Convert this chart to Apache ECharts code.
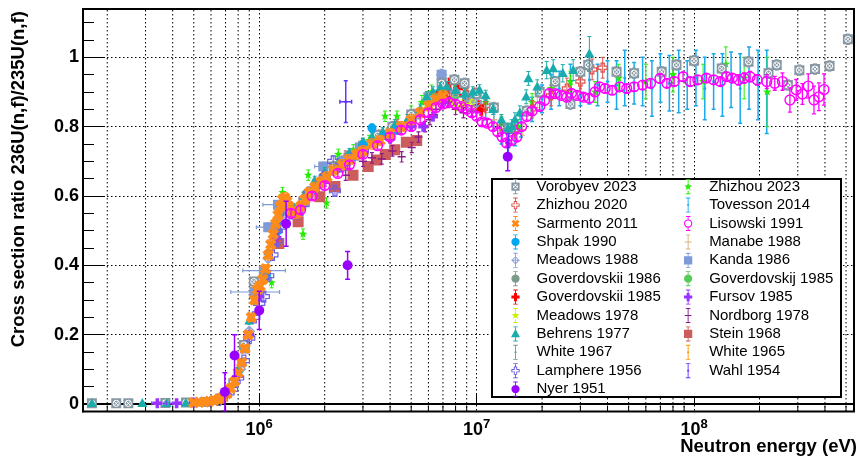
<!DOCTYPE html>
<html><head><meta charset="utf-8">
<script src="https://cdn.jsdelivr.net/npm/echarts@6/dist/echarts.min.js"></script>
<style>html,body{margin:0;padding:0;background:#fff}#c{width:859px;height:456px}</style>
</head><body><div id="c"></div>
<script>
// ---------- data: [energy eV, ratio, error, (xLow, xHigh)] ----------
const vorobyev2023 = [[1.7e5,0.002,0.003],[2.2e5,0.002,0.003],[2.5e5,0.002,0.003],[3.7e5,0.003,0.003],[4.6e5,0.004,0.003],[5.6e5,0.006,0.004],[6.6e5,0.015,0.005],[7.6e5,0.06,0.008],[8.5e5,0.17,0.01],[9.45e5,0.353,0.012],[1.06e6,0.37,0.012],[1.2e6,0.51,0.015],[1.32e6,0.585,0.015],[1.6e6,0.585,0.015],[1.85e6,0.635,0.015],[2.2e6,0.685,0.015],[2.6e6,0.715,0.015],[3.0e6,0.745,0.015],[3.5e6,0.775,0.015],[4.1e6,0.80,0.015],[5.0e6,0.835,0.015],[6.0e6,0.885,0.015],[6.9e6,0.925,0.015],[7.9e6,0.935,0.015],[8.8e6,0.925,0.015],[1.0e7,0.895,0.015],[1.2e7,0.855,0.015],[1.4e7,0.795,0.015],[1.7e7,0.845,0.015],[1.95e7,0.90,0.015],[2.3e7,0.93,0.015],[2.7e7,0.865,0.015],[3.0e7,0.958,0.015],[3.26e7,0.978,0.015],[4.4e7,0.958,0.015],[5.3e7,0.954,0.015],[7.1e7,0.958,0.015],[8.3e7,0.978,0.015],[1.0e8,0.99,0.015],[1.34e8,0.968,0.015],[1.78e8,0.987,0.015],[2.2e8,0.954,0.015],[2.4e8,0.978,0.015],[2.7e8,0.92,0.015],[3.05e8,0.963,0.015],[3.6e8,0.966,0.015],[4.2e8,0.975,0.015],[5.1e8,1.052,0.015]];
const zhizhou2020 = [[1.3e6,0.58,0.02],[1.6e6,0.59,0.02],[2.0e6,0.66,0.02],[2.5e6,0.71,0.02],[3.0e6,0.745,0.02],[3.6e6,0.77,0.02],[4.3e6,0.80,0.02],[5.2e6,0.83,0.02],[6.3e6,0.88,0.02],[7.5e6,0.90,0.02],[9.0e6,0.89,0.02],[1.1e7,0.86,0.02],[1.3e7,0.80,0.025],[1.5e7,0.79,0.025],[1.8e7,0.85,0.025],[2.2e7,0.89,0.03],[2.6e7,0.91,0.03],[3.0e7,0.93,0.03],[3.4e7,0.965,0.03],[3.8e7,0.97,0.03]];
const sarmento2011 = [[5.0e5,0.004,0.003],[5.3e5,0.005,0.003],[5.6e5,0.006,0.003],[5.9e5,0.008,0.003],[6.2e5,0.010,0.003],[6.5e5,0.014,0.004],[6.8e5,0.020,0.004],[7.1e5,0.030,0.005],[7.4e5,0.045,0.005],[7.7e5,0.065,0.006],[8.0e5,0.09,0.007],[8.3e5,0.12,0.008],[8.6e5,0.16,0.01],[8.9e5,0.20,0.01],[9.2e5,0.25,0.012],[9.5e5,0.30,0.012],[9.8e5,0.33,0.012],[1.01e6,0.34,0.012],[1.04e6,0.36,0.012],[1.07e6,0.39,0.012],[1.10e6,0.43,0.015],[1.13e6,0.46,0.015],[1.16e6,0.49,0.015],[1.19e6,0.52,0.015],[1.22e6,0.545,0.015],[1.25e6,0.57,0.015],[1.28e6,0.59,0.015],[1.31e6,0.595,0.015],[1.34e6,0.585,0.015],[1.37e6,0.57,0.015],[1.42e6,0.555,0.015],[1.48e6,0.55,0.015],[1.55e6,0.57,0.015],[1.62e6,0.59,0.015],[1.70e6,0.61,0.015],[1.80e6,0.625,0.015],[1.92e6,0.64,0.015],[2.05e6,0.655,0.015],[2.2e6,0.675,0.015],[2.4e6,0.69,0.015],[2.6e6,0.705,0.015],[2.8e6,0.72,0.015],[3.0e6,0.73,0.015],[3.3e6,0.75,0.015],[3.6e6,0.76,0.015],[4.0e6,0.78,0.015],[4.5e6,0.80,0.015],[5.0e6,0.82,0.015],[5.5e6,0.84,0.015],[6.0e6,0.86,0.015],[6.5e6,0.88,0.015],[7.0e6,0.89,0.015]];
const shpak1990 = [[9.6e5,0.30,0.01],[1.08e6,0.37,0.01],[1.22e6,0.50,0.012],[1.45e6,0.55,0.012],[1.8e6,0.62,0.012],[2.3e6,0.68,0.012],[2.7e6,0.715,0.012],[3.0e6,0.747,0.012],[3.3e6,0.796,0.012],[3.8e6,0.775,0.012],[4.3e6,0.79,0.012]];
const meadows1988 = [[8.2e5,0.10,0.006],[9.0e5,0.21,0.008],[1.0e6,0.32,0.01],[1.1e6,0.42,0.01],[1.2e6,0.50,0.01],[1.3e6,0.57,0.01],[1.5e6,0.555,0.01],[1.7e6,0.60,0.01],[2.0e6,0.65,0.01],[2.5e6,0.70,0.01],[3.0e6,0.74,0.01],[3.5e6,0.765,0.01],[4.0e6,0.785,0.01],[5.0e6,0.82,0.01],[6.0e6,0.87,0.012],[6.9e6,0.95,0.012],[8.0e6,0.90,0.012],[9.0e6,0.885,0.012],[1.0e7,0.87,0.012]];
const goverdovskii1986 = [[1.0e6,0.33,0.01],[1.25e6,0.55,0.012],[1.5e6,0.56,0.012],[2.0e6,0.655,0.012],[2.5e6,0.70,0.012],[3.0e6,0.74,0.012],[4.0e6,0.79,0.012],[5.0e6,0.825,0.012]];
const goverdovskii1985 = [[6.0e6,0.87,0.015],[6.6e6,0.89,0.015],[7.2e6,0.90,0.015],[7.5e6,0.925,0.015],[8.2e6,0.91,0.015],[8.8e6,0.89,0.015],[9.9e6,0.896,0.015],[1.03e7,0.86,0.015],[1.05e7,0.848,0.015]];
const meadows1978 = [[1.0e6,0.33,0.01],[1.5e6,0.56,0.012],[2.0e6,0.65,0.012],[3.0e6,0.735,0.012],[4.0e6,0.78,0.012],[5.0e6,0.815,0.012],[6.0e6,0.86,0.012],[7.0e6,0.89,0.012],[7.6e6,0.875,0.012],[8.1e6,0.858,0.012],[8.6e6,0.865,0.012],[9.1e6,0.87,0.012],[9.6e6,0.875,0.012]];
const behrens1977 = [[1.7e5,0.002,0.003],[2.9e5,0.002,0.003],[3.75e5,0.002,0.003],[4.6e5,0.003,0.003],[5.2e5,0.004,0.003],[6.0e5,0.008,0.003],[7.0e5,0.028,0.004],[8.0e5,0.10,0.006],[9.0e5,0.24,0.01],[1.0e6,0.34,0.01],[1.1e6,0.44,0.012],[1.2e6,0.53,0.012],[1.3e6,0.59,0.012],[1.45e6,0.565,0.012],[1.6e6,0.60,0.012],[1.8e6,0.645,0.012],[2.0e6,0.67,0.012],[2.3e6,0.695,0.012],[2.6e6,0.725,0.012],[3.0e6,0.755,0.012],[3.3e6,0.77,0.012],[3.7e6,0.785,0.012],[4.2e6,0.805,0.015],[4.8e6,0.82,0.015],[5.5e6,0.85,0.015],[5.9e6,0.886,0.015],[6.3e6,0.90,0.015],[6.8e6,0.912,0.015],[7.3e6,0.915,0.015],[8.0e6,0.905,0.015],[8.8e6,0.895,0.015],[9.6e6,0.90,0.015],[1.03e7,0.906,0.015],[1.1e7,0.89,0.015],[1.19e7,0.85,0.015],[1.3e7,0.82,0.015],[1.39e7,0.795,0.015],[1.45e7,0.80,0.02],[1.5e7,0.82,0.02],[1.58e7,0.84,0.02],[1.69e7,0.886,0.02],[1.73e7,0.939,0.02],[1.9e7,0.915,0.02],[2.1e7,0.963,0.025],[2.25e7,0.968,0.025],[2.49e7,0.954,0.025],[2.78e7,0.963,0.03],[3.3e7,1.01,0.05]];
const white1967 = [[1.2e6,0.50,0.01],[1.6e6,0.58,0.01],[2.2e6,0.67,0.01],[3.0e6,0.735,0.01],[4.0e6,0.78,0.01]];
const lamphere1956 = [[6.5e5,0.012,0.003],[7.0e5,0.025,0.004],[7.5e5,0.042,0.005],[8.0e5,0.075,0.006],[8.5e5,0.125,0.008],[9.0e5,0.19,0.01],[9.5e5,0.25,0.01],[1.0e6,0.29,0.012],[1.05e6,0.31,0.012],[1.1e6,0.37,0.012],[1.15e6,0.43,0.012],[1.2e6,0.47,0.015],[1.25e6,0.51,0.015],[1.3e6,0.545,0.015],[1.4e6,0.55,0.015],[1.5e6,0.55,0.015],[1.6e6,0.575,0.015],[1.7e6,0.61,0.015],[1.85e6,0.63,0.015],[2.0e6,0.655,0.015],[2.19e6,0.70,0.015],[2.23e6,0.615,0.015],[2.4e6,0.685,0.015],[2.7e6,0.71,0.015],[3.0e6,0.73,0.015]];
const nyer1951 = [[6.95e5,0.035,0.055],[7.7e5,0.14,0.06],[1.0e6,0.27,0.055],[1.33e6,0.52,0.065],[2.55e6,0.40,0.04],[1.39e7,0.713,0.04]];
const zhizhou2023 = [[1.14e6,0.35,0.015],[1.22e6,0.49,0.015],[1.28e6,0.61,0.015],[1.59e6,0.49,0.015],[1.68e6,0.66,0.015],[2.04e6,0.58,0.015],[2.31e6,0.72,0.015],[2.71e6,0.733,0.015],[3.2e6,0.76,0.015],[3.79e6,0.83,0.015],[4.3e6,0.83,0.015],[5.0e6,0.84,0.02],[5.6e6,0.87,0.02],[6.2e6,0.90,0.02],[7.0e6,0.935,0.02],[8.0e6,0.92,0.02],[9.0e6,0.90,0.02],[1.1e7,0.87,0.02],[1.3e7,0.81,0.02],[1.55e7,0.80,0.02],[1.8e7,0.87,0.025],[2.2e7,0.91,0.03],[2.7e7,0.93,0.03],[3.5e7,0.90,0.03],[4.5e7,0.94,0.04],[6.0e7,0.93,0.05],[8.0e7,0.95,0.05],[1.1e8,0.93,0.05],[1.4e8,0.98,0.05],[1.7e8,0.94,0.06],[2.17e8,0.90,0.10]];
const tovesson2014 = [[3.0e6,0.745,0.02],[4.0e6,0.785,0.02],[5.0e6,0.825,0.02],[6.0e6,0.87,0.02],[7.0e6,0.90,0.025],[8.0e6,0.895,0.025],[9.0e6,0.88,0.025],[1.0e7,0.87,0.03],[1.1e7,0.85,0.03],[1.2e7,0.82,0.03],[1.3e7,0.78,0.03],[1.4e7,0.75,0.03],[1.5e7,0.775,0.03],[1.6e7,0.80,0.03],[1.8e7,0.85,0.035],[2.0e7,0.88,0.04],[2.2e7,0.90,0.05],[2.4e7,0.91,0.05],[2.7e7,0.92,0.06],[3.0e7,0.91,0.05],[3.3e7,0.935,0.07],[3.6e7,0.92,0.06],[4.0e7,0.93,0.06],[4.4e7,0.92,0.07],[4.8e7,0.94,0.08],[5.3e7,0.925,0.06],[5.8e7,0.93,0.07],[6.4e7,0.91,0.08],[7.0e7,0.94,0.07],[7.7e7,0.925,0.08],[8.5e7,0.93,0.09],[9.3e7,0.92,0.07],[1.02e8,0.94,0.08],[1.12e8,0.91,0.09],[1.23e8,0.93,0.08],[1.35e8,0.92,0.09],[1.48e8,0.935,0.08],[1.63e8,0.91,0.1],[1.79e8,0.94,0.09],[1.97e8,0.92,0.1],[2.16e8,0.90,0.12]];
const lisowski1991 = [[1.4e6,0.55,0.01],[1.55e6,0.56,0.01],[1.75e6,0.60,0.01],[2.0e6,0.63,0.01],[2.3e6,0.665,0.01],[2.6e6,0.69,0.01],[3.0e6,0.72,0.01],[3.5e6,0.745,0.01],[4.0e6,0.77,0.01],[4.5e6,0.79,0.01],[5.0e6,0.80,0.01],[5.5e6,0.82,0.01],[6.0e6,0.84,0.01],[6.5e6,0.855,0.01],[7.0e6,0.865,0.01],[7.5e6,0.87,0.01],[8.0e6,0.865,0.01],[8.5e6,0.858,0.01],[9.0e6,0.85,0.01],[9.5e6,0.84,0.01],[1.0e7,0.83,0.01],[1.06e7,0.814,0.01],[1.12e7,0.81,0.01],[1.19e7,0.80,0.01],[1.25e7,0.785,0.01],[1.31e7,0.77,0.01],[1.37e7,0.753,0.01],[1.45e7,0.76,0.01],[1.53e7,0.77,0.01],[1.61e7,0.80,0.01],[1.70e7,0.829,0.01],[1.8e7,0.845,0.01],[1.95e7,0.858,0.01],[2.05e7,0.875,0.01],[2.16e7,0.896,0.01],[2.3e7,0.895,0.01],[2.45e7,0.89,0.01],[2.6e7,0.885,0.01],[2.73e7,0.896,0.01],[2.9e7,0.89,0.01],[3.1e7,0.885,0.01],[3.3e7,0.882,0.012],[3.5e7,0.90,0.012],[3.67e7,0.915,0.012],[3.9e7,0.91,0.012],[4.2e7,0.905,0.012],[4.55e7,0.915,0.012],[4.9e7,0.91,0.012],[5.3e7,0.915,0.012],[5.8e7,0.92,0.012],[6.3e7,0.925,0.012],[6.97e7,0.939,0.012],[7.5e7,0.925,0.012],[8.1e7,0.93,0.012],[8.9e7,0.944,0.012],[9.6e7,0.93,0.012],[1.04e8,0.935,0.012],[1.14e8,0.94,0.012],[1.23e8,0.935,0.012],[1.32e8,0.93,0.012],[1.41e8,0.944,0.012],[1.5e8,0.94,0.012],[1.6e8,0.935,0.015],[1.7e8,0.94,0.015],[1.81e8,0.944,0.015],[1.95e8,0.935,0.015],[2.16e8,0.93,0.02],[2.35e8,0.925,0.02],[2.55e8,0.93,0.025],[2.76e8,0.877,0.035],[2.95e8,0.906,0.03],[3.15e8,0.894,0.03],[3.35e8,0.917,0.035],[3.56e8,0.877,0.04],[3.75e8,0.886,0.04],[3.96e8,0.907,0.045]];
const manabe1988 = [[1.0e6,0.33,0.01],[1.5e6,0.55,0.012],[2.0e6,0.65,0.012],[3.0e6,0.735,0.012],[4.0e6,0.785,0.012],[5.0e6,0.82,0.012],[6.0e6,0.87,0.012],[7.0e6,0.895,0.012],[8.0e6,0.89,0.012],[9.0e6,0.875,0.012],[1.0e7,0.86,0.012],[1.2e7,0.82,0.015],[1.4e7,0.76,0.015],[1.63e7,0.79,0.015],[1.9e7,0.87,0.015]];
const kanda1986 = [[8.6e5,0.16,0.01],[9.5e5,0.323,0.01,7.4e5,1.24e6],[1.05e6,0.385,0.01,8.4e5,1.32e6],[1.1e6,0.51,0.012,9.7e5,1.24e6],[1.22e6,0.575,0.012,1.04e6,1.43e6],[1.97e6,0.685,0.012,1.8e6,2.1e6],[2.4e6,0.70,0.012],[2.9e6,0.74,0.012],[3.5e6,0.77,0.012],[4.3e6,0.80,0.012],[5.2e6,0.835,0.012],[6.2e6,0.88,0.015],[6.9e6,0.95,0.015]];
const goverdovskij1985 = [[2.0e6,0.66,0.012],[3.0e6,0.75,0.012],[4.0e6,0.79,0.012],[5.0e6,0.83,0.012],[6.0e6,0.87,0.012],[7.0e6,0.90,0.012],[8.0e6,0.89,0.012],[9.0e6,0.88,0.012]];
const fursov1985 = [[3.4e5,0.002,0.002,3.2e5,3.75e5],[4.17e5,0.002,0.002,3.88e5,4.32e5],[5.0e5,0.004,0.002],[6.0e5,0.008,0.003],[7.0e5,0.025,0.004],[8.0e5,0.08,0.006],[9.0e5,0.20,0.01],[1.0e6,0.31,0.01],[1.2e6,0.48,0.012],[1.5e6,0.55,0.012],[2.0e6,0.64,0.012],[2.5e6,0.69,0.012],[3.0e6,0.725,0.012],[4.0e6,0.765,0.012],[5.0e6,0.80,0.012],[5.68e6,0.80,0.012],[6.3e6,0.829,0.012],[7.0e6,0.87,0.012]];
const nordborg1978 = [[2.5e6,0.66,0.015],[3.0e6,0.70,0.015],[3.3e6,0.71,0.015],[3.66e6,0.707,0.015],[4.1e6,0.73,0.015],[4.52e6,0.713,0.015],[5.03e6,0.74,0.015],[5.4e6,0.77,0.015],[5.8e6,0.80,0.015],[6.1e6,0.82,0.015],[6.5e6,0.85,0.015],[6.9e6,0.87,0.015],[7.4e6,0.87,0.015],[8.0e6,0.85,0.015],[8.7e6,0.84,0.015],[9.5e6,0.845,0.015]];
const stein1968 = [[1.23e6,0.463,0.012],[1.51e6,0.526,0.012],[1.9e6,0.598,0.012],[2.23e6,0.627,0.012],[2.7e6,0.66,0.012],[3.17e6,0.685,0.012],[3.46e6,0.704,0.012],[3.8e6,0.72,0.012],[4.2e6,0.733,0.012],[4.75e6,0.755,0.012],[5.3e6,0.76,0.012]];
const white1965 = [[8.0e5,0.09,0.005],[1.0e6,0.33,0.01],[1.2e6,0.50,0.012],[1.5e6,0.56,0.012],[2.0e6,0.655,0.012],[2.5e6,0.70,0.012],[3.0e6,0.74,0.012]];
const wahl1954 = [[2.5e6,0.872,0.06,2.35e6,2.66e6],[1.4e7,0.76,0.02]];

// axis ranges and tick positions
const xRange = [1.547e5, 5.44e8];
const yRange = [-0.0216, 1.1393];
const minorXTicks = [2e5,3e5,4e5,5e5,6e5,7e5,8e5,9e5,2e6,3e6,4e6,5e6,6e6,7e6,8e6,9e6,2e7,3e7,4e7,5e7,6e7,7e7,8e7,9e7,2e8,3e8,4e8,5e8];
const legendLeft = ['Vorobyev 2023','Zhizhou 2020','Sarmento 2011','Shpak 1990','Meadows 1988','Goverdovskii 1986','Goverdovskii 1985','Meadows 1978','Behrens 1977','White 1967','Lamphere 1956','Nyer 1951'];
const legendRight = ['Zhizhou 2023','Tovesson 2014','Lisowski 1991','Manabe 1988','Kanda 1986','Goverdovskij 1985','Fursov 1985','Nordborg 1978','Stein 1968','White 1965','Wahl 1954'];

// ---------- styles ----------
const F = 'Liberation Sans, Arial, Helvetica, sans-serif';
const specs = {
  'Tovesson 2014':     {data: tovesson2014, color:'#19aaee', kind:'dot', size:3, cap:4, lw:1.5},
  'Zhizhou 2023':      {data: zhizhou2023, color:'#22ee00', kind:'star', size:9, cap:4, lw:1},
  'White 1967':        {data: white1967, color:'#6f9a88', kind:'dot', size:3, cap:4, lw:1},
  'White 1965':        {data: white1965, color:'#ff9900', kind:'dot', size:3, cap:4, lw:1},
  'Goverdovskij 1985': {data: goverdovskij1985, color:'#55cc55', kind:'circle', size:9, cap:4, lw:1},
  'Goverdovskii 1986': {data: goverdovskii1986, color:'#7a9a8a', kind:'circle', size:9, cap:4, lw:1},
  'Manabe 1988':       {data: manabe1988, color:'#d8b07e', kind:'pcross', size:7, cap:4, lw:1},
  'Meadows 1978':      {data: meadows1978, color:'#c8f000', kind:'star', size:10, cap:4, lw:1},
  'Goverdovskii 1985': {data: goverdovskii1985, color:'#ff0000', kind:'cross', size:10, cap:4, lw:1},
  'Zhizhou 2020':      {data: zhizhou2020, color:'#e0504a', kind:'ocross', size:9, cap:4, lw:1},
  'Stein 1968':        {data: stein1968, color:'#cd5c5c', kind:'rect', size:11, cap:4, lw:1},
  'Nordborg 1978':     {data: nordborg1978, color:'#8b1a8b', kind:'pcross', size:8, cap:4, lw:1.2},
  'Kanda 1986':        {data: kanda1986, color:'#7f9ad8', kind:'rect', size:10, cap:4, lw:1.2},
  'Meadows 1988':      {data: meadows1988, color:'#8aa2d8', kind:'odiam', size:10, cap:4, lw:1},
  'Vorobyev 2023':     {data: vorobyev2023, color:'#8797a3', kind:'sqx', size:10, cap:4, lw:1},
  'Behrens 1977':      {data: behrens1977, color:'#1aacac', kind:'tri', size:10, cap:4, lw:1},
  'Shpak 1990':        {data: shpak1990, color:'#00a8f0', kind:'circle', size:9, cap:4, lw:1},
  'Lamphere 1956':     {data: lamphere1956, color:'#6b5fe0', kind:'ocross', size:11, cap:4, lw:1},
  'Fursov 1985':       {data: fursov1985, color:'#9933ff', kind:'cross', size:10, cap:4, lw:1},
  'Sarmento 2011':     {data: sarmento2011, color:'#ff8c1a', kind:'xcross', size:12, cap:4, lw:1},
  'Lisowski 1991':     {data: lisowski1991, color:'#ff00ff', kind:'ocircle', size:11, cap:4, lw:1.3},
  'Wahl 1954':         {data: wahl1954, color:'#6633ff', kind:'dot', size:3, cap:4, lw:1.5},
  'Nyer 1951':         {data: nyer1951, color:'#9a00ff', kind:'circle', size:10, cap:5, lw:1.5}
};

// ---------- marker geometry ----------
function plusPts(cx, cy, h, a) {
  return [[cx-a,cy-h],[cx+a,cy-h],[cx+a,cy-a],[cx+h,cy-a],[cx+h,cy+a],[cx+a,cy+a],[cx+a,cy+h],[cx-a,cy+h],[cx-a,cy+a],[cx-h,cy+a],[cx-h,cy-a],[cx-a,cy-a]];
}
function rotPts(pts, cx, cy, ang) {
  const c = Math.cos(ang), s = Math.sin(ang);
  return pts.map(p => [cx + (p[0]-cx)*c - (p[1]-cy)*s, cy + (p[0]-cx)*s + (p[1]-cy)*c]);
}
function starPts(cx, cy, R, r) {
  const p = [];
  for (let i = 0; i < 10; i++) {
    const t = -Math.PI/2 + i*Math.PI/5, rr = i % 2 ? r : R;
    p.push([cx + rr*Math.cos(t), cy + rr*Math.sin(t)]);
  }
  return p;
}
function marker(kind, cx, cy, s, color) {
  const h = s/2;
  switch (kind) {
    case 'rect': return [{type:'rect', shape:{x:cx-h, y:cy-h, width:s, height:s}, style:{fill:color}}];
    case 'sqx': return [
      {type:'rect', shape:{x:cx-h, y:cy-h, width:s, height:s}, style:{fill:color}},
      {type:'circle', shape:{cx:cx, cy:cy, r:h*0.62}, style:{fill:'none', stroke:'#fff', lineWidth:1}},
      {type:'line', shape:{x1:cx-h*0.44, y1:cy-h*0.44, x2:cx+h*0.44, y2:cy+h*0.44}, style:{stroke:'#fff', lineWidth:1}},
      {type:'line', shape:{x1:cx+h*0.44, y1:cy-h*0.44, x2:cx-h*0.44, y2:cy+h*0.44}, style:{stroke:'#fff', lineWidth:1}}];
    case 'circle': return [{type:'circle', shape:{cx:cx, cy:cy, r:h}, style:{fill:color}}];
    case 'ocircle': return [{type:'circle', shape:{cx:cx, cy:cy, r:h-0.6}, style:{fill:'none', stroke:color, lineWidth:1.4}}];
    case 'dot': return [{type:'circle', shape:{cx:cx, cy:cy, r:h}, style:{fill:color}}];
    case 'tri': return [{type:'polygon', shape:{points:[[cx, cy-h*1.05],[cx+h, cy+h*0.75],[cx-h, cy+h*0.75]]}, style:{fill:color}}];
    case 'cross': return [{type:'polygon', shape:{points:plusPts(cx, cy, h, h*0.36)}, style:{fill:color}}];
    case 'xcross': return [{type:'polygon', shape:{points:rotPts(plusPts(cx, cy, h, h*0.36), cx, cy, Math.PI/4)}, style:{fill:color}}];
    case 'ocross': return [{type:'polygon', shape:{points:plusPts(cx, cy, h, h*0.36)}, style:{fill:'none', stroke:color, lineWidth:1.2}}];
    case 'star': return [{type:'polygon', shape:{points:starPts(cx, cy, h, h*0.42)}, style:{fill:color}}];
    case 'odiam': return [
      {type:'polygon', shape:{points:[[cx, cy-h],[cx+h, cy],[cx, cy+h],[cx-h, cy]]}, style:{fill:'none', stroke:color, lineWidth:1.2}},
      {type:'line', shape:{x1:cx-h, y1:cy, x2:cx+h, y2:cy}, style:{stroke:color, lineWidth:1}},
      {type:'line', shape:{x1:cx, y1:cy-h, x2:cx, y2:cy+h}, style:{stroke:color, lineWidth:1}}];
    case 'pcross': return [{type:'line', shape:{x1:cx-h, y1:cy, x2:cx+h, y2:cy}, style:{stroke:color, lineWidth:1.5}}];
  }
  return [];
}
function makeRender(sp) {
  return function (params, api) {
    const x = api.value(0), y = api.value(1), e = api.value(2), xl = api.value(3), xh = api.value(4);
    const c = api.coord([x, y]);
    const lo = api.coord([x, y - e]), hi = api.coord([x, y + e]);
    const st = {stroke: sp.color, lineWidth: sp.lw};
    const ch = [
      {type:'line', shape:{x1:c[0], y1:lo[1], x2:c[0], y2:hi[1]}, style:st},
      {type:'line', shape:{x1:c[0]-sp.cap/2, y1:lo[1], x2:c[0]+sp.cap/2, y2:lo[1]}, style:st},
      {type:'line', shape:{x1:c[0]-sp.cap/2, y1:hi[1], x2:c[0]+sp.cap/2, y2:hi[1]}, style:st}
    ];
    if (isFinite(xl) && isFinite(xh)) {
      const l = api.coord([xl, y]), r = api.coord([xh, y]);
      ch.push({type:'line', shape:{x1:l[0], y1:c[1], x2:r[0], y2:c[1]}, style:st});
      ch.push({type:'line', shape:{x1:l[0], y1:c[1]-sp.cap/2, x2:l[0], y2:c[1]+sp.cap/2}, style:st});
      ch.push({type:'line', shape:{x1:r[0], y1:c[1]-sp.cap/2, x2:r[0], y2:c[1]+sp.cap/2}, style:st});
    }
    return {type:'group', children: ch.concat(marker(sp.kind, c[0], c[1], sp.size, sp.color))};
  };
}

// ---------- legend icons (20x20 box: error bar + marker) ----------
function ptsPath(pts) { return 'M' + pts.map(p => p[0].toFixed(2) + ',' + p[1].toFixed(2)).join('L') + 'Z'; }
function bar(h) {
  return 'M9.4,0H10.6V' + (10-h) + 'H9.4Z M9.4,' + (10+h) + 'H10.6V20H9.4Z M7,0H13V1.2H7Z M7,18.8H13V20H7Z';
}
function legendIcon(kind) {
  let p;
  switch (kind) {
    case 'rect': p = bar(5) + ' M4.5,4.5H15.5V15.5H4.5Z'; break;
    case 'sqx': p = bar(5) + ' M4.5,4.5H15.5V15.5H4.5Z M13.3,10A3.3,3.3 0 1 0 6.7,10A3.3,3.3 0 1 0 13.3,10Z M8,7.3L12.7,12L12,12.7L7.3,8Z M12,7.3L12.7,8L8,12.7L7.3,12Z'; break;
    case 'circle': p = bar(5) + ' M15.5,10A5.5,5.5 0 1 1 4.5,10A5.5,5.5 0 1 1 15.5,10Z'; break;
    case 'ocircle': p = bar(5) + ' M15.5,10A5.5,5.5 0 1 1 4.5,10A5.5,5.5 0 1 1 15.5,10Z M14,10A4,4 0 1 0 6,10A4,4 0 1 0 14,10Z'; break;
    case 'dot': p = bar(1.5) + ' M11.5,10A1.5,1.5 0 1 1 8.5,10A1.5,1.5 0 1 1 11.5,10Z'; break;
    case 'tri': p = bar(4) + ' M10,3.5L16,14.5H4Z'; break;
    case 'cross': p = bar(5) + ' ' + ptsPath(plusPts(10, 10, 5.5, 2)); break;
    case 'xcross': p = bar(5) + ' ' + ptsPath(rotPts(plusPts(10, 10, 5.5, 2), 10, 10, Math.PI/4)); break;
    case 'ocross': p = bar(5.5) + ' ' + ptsPath(plusPts(10, 10, 5.5, 2.2)) + ' ' + ptsPath(plusPts(10, 10, 4.3, 1).reverse()); break;
    case 'star': p = bar(5) + ' ' + ptsPath(starPts(10, 10, 5.5, 2.3)); break;
    case 'odiam': p = bar(5.5) + ' M10,4.5L15.5,10L10,15.5L4.5,10Z M10,6.3L6.3,10L10,13.7L13.7,10Z M4.5,9.4H15.5V10.6H4.5Z M9.4,4.5H10.6V15.5H9.4Z'; break;
    case 'pcross': p = 'M9.4,0H10.6V20H9.4Z M7,0H13V1.2H7Z M7,18.8H13V20H7Z M5.5,9.3H14.5V10.7H5.5Z'; break;
  }
  return 'path://' + p;
}

// ---------- build options ----------
const series = [{
  type:'custom', name:'_grid', silent:true, z:1, clip:true,
  data: minorXTicks.map(v => [v]),
  encode:{x:0},
  renderItem: function (params, api) {
    const b = api.coord([api.value(0), yRange[0]]);
    const t = api.coord([api.value(0), yRange[1]]);
    return {type:'group', children:[
      {type:'line', shape:{x1:b[0], y1:b[1], x2:t[0], y2:t[1]}, style:{stroke:'#000', lineWidth:1, lineDash:[1.5,2.5]}},
      {type:'line', shape:{x1:b[0], y1:b[1], x2:b[0], y2:b[1]-6}, style:{stroke:'#000', lineWidth:1}}
    ]};
  }
}];
Object.keys(specs).forEach(name => {
  const sp = specs[name];
  series.push({
    type:'custom', name:name, z:3, clip:true,
    itemStyle:{color: sp.color},
    encode:{x:0, y:1},
    data: sp.data.map(d => d.length === 5 ? d : [d[0], d[1], d[2], '-', '-']),
    renderItem: makeRender(sp)
  });
});
function legendData(names) {
  return names.map(n => ({name:n, icon: legendIcon(specs[n].kind)}));
}
const legendCommon = {
  orient:'vertical', top:179.2, itemWidth:32, itemHeight:15, itemGap:3.4, padding:0,
  selectedMode:false, z:20, symbolKeepAspect:true,
  textStyle:{fontSize:15, fontFamily:F, color:'#000'}
};

const option = {
  animation:false,
  backgroundColor:'#fff',
  grid:{left:83, top:9, right:5, bottom:44.5, show:true, borderColor:'#000', borderWidth:2, backgroundColor:'#fff', outerBoundsMode:'none', containLabel:false},
  xAxis:{
    type:'log', logBase:10, min:xRange[0], max:xRange[1],
    name:'Neutron energy (eV)', nameLocation:'end', nameGap:3, nameMoveOverlap:false,
    nameTextStyle:{fontSize:18.5, fontWeight:'bold', fontFamily:F, color:'#000', align:'right', verticalAlign:'top', padding:[33,0,0,0]},
    axisLine:{show:true, lineStyle:{color:'#000', width:2}},
    axisTick:{show:true, inside:true, length:11, lineStyle:{color:'#000', width:1}},
    splitLine:{show:true, lineStyle:{color:'#000', width:1, type:[1.5,2.5]}},
    axisLabel:{
      margin:6,
      formatter: function (v) {
        const e = Math.log10(v), r = Math.round(e);
        return Math.abs(e - r) < 1e-6 ? '{b|10}{s|' + r + '}' : '';
      },
      rich:{
        b:{fontSize:18, fontWeight:'bold', fontFamily:F, color:'#000'},
        s:{fontSize:13, fontWeight:'bold', fontFamily:F, color:'#000', verticalAlign:'top', padding:[0,0,12,0]}
      }
    }
  },
  yAxis:{
    type:'value', min:yRange[0], max:yRange[1], splitNumber:5,
    name:'Cross section ratio 236U(n,f)/235U(n,f)', nameLocation:'middle', nameGap:55, nameRotate:90, nameMoveOverlap:false,
    nameTextStyle:{fontSize:18.5, fontWeight:'bold', fontFamily:F, color:'#000', padding:[0,0,0,62]},
    axisLine:{show:true, lineStyle:{color:'#000', width:2}},
    axisTick:{show:true, inside:true, length:22, lineStyle:{color:'#000', width:1}},
    minorTick:{show:true, splitNumber:4, length:11, lineStyle:{color:'#000', width:1}},
    splitLine:{show:true, lineStyle:{color:'#000', width:1, type:[1.5,2.5]}},
    axisLabel:{
      margin:4, fontSize:18, fontWeight:'bold', fontFamily:F, color:'#000',
      formatter: function (v) {
        const r = Math.round(v*5)/5;
        return Math.abs(v - r) < 1e-6 ? String(+r.toFixed(1)) : '';
      }
    }
  },
  legend:[
    Object.assign({}, legendCommon, {left:511, data: legendData(legendLeft)}),
    Object.assign({}, legendCommon, {left:684, data: legendData(legendRight)})
  ],
  graphic:[{type:'rect', z:15, shape:{x:492, y:179, width:349, height:218}, style:{fill:'#fff', stroke:'#000', lineWidth:2}}],
  series: series
};
const chart = echarts.init(document.getElementById('c'), null, {renderer:'canvas'});
chart.setOption(option);
</script></body></html>
